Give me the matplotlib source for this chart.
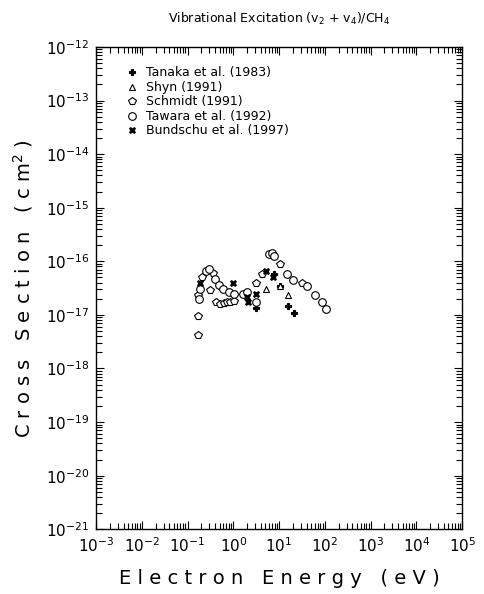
import matplotlib
matplotlib.use("Agg")
import matplotlib.pyplot as plt
from matplotlib.ticker import LogLocator, NullFormatter

# Tanaka et al. (1983)
tanaka_e = [3.14, 7.8, 10.5, 15.5, 21.3]
tanaka_cs = [1.33e-17, 5.8e-17, 3.4e-17, 1.47e-17, 1.10e-17]

# Shyn (1991)
shyn_e = [5.2, 10.5, 15.5]
shyn_cs = [3.1e-17, 3.4e-17, 2.4e-17]

# Schmidt (1991)
schmidt_e = [0.167, 0.172, 0.172, 0.204, 0.31, 0.356, 0.413, 0.513, 0.628,
             0.741, 0.849, 1.04, 3.14, 4.19, 10.5, 31.3]
schmidt_cs = [4.2e-18, 9.6e-18, 2.36e-17, 5.2e-17, 2.9e-17, 6.0e-17, 1.77e-17,
              1.60e-17, 1.69e-17, 1.77e-17, 1.77e-17, 1.82e-17, 3.9e-17,
              5.8e-17, 8.9e-17, 3.9e-17]

# Tawara et al. (1992)
tawara_e = [0.181, 0.187, 0.254, 0.30, 0.405, 0.495, 0.606, 0.82, 1.04, 1.61,
            2.03, 3.14, 6.14, 7.03, 7.89, 15.2, 20.5, 41.6, 61.2, 85.8, 105]
tawara_cs = [1.96e-17, 3.05e-17, 6.7e-17, 7.1e-17, 4.6e-17, 3.6e-17, 3.0e-17,
             2.7e-17, 2.46e-17, 2.46e-17, 2.7e-17, 1.77e-17, 1.37e-16,
             1.42e-16, 1.26e-16, 5.8e-17, 4.5e-17, 3.4e-17, 2.36e-17,
             1.77e-17, 1.29e-17]

# Bundschu et al. (1997)
bundschu_e = [0.19, 1.0, 1.97, 2.07, 3.14, 5.2, 7.5]
bundschu_cs = [3.9e-17, 3.9e-17, 2.2e-17, 1.77e-17, 2.46e-17, 6.7e-17, 5.2e-17]

plt.rcParams['font.family'] = ['DejaVu Sans']

fig = plt.figure(figsize=(4.85, 5.94), dpi=100)
ax = fig.add_axes([0.198, 0.109, 0.755, 0.812])

ms = 5
ax.plot(tanaka_e, tanaka_cs, 'P', color='black', ms=ms, mew=0.8,
        label='Tanaka et al. (1983)')
ax.plot(shyn_e, shyn_cs, '^', mfc='white', mec='black', ms=ms, mew=0.8,
        label='Shyn (1991)')
ax.plot(schmidt_e, schmidt_cs, 'p', mfc='white', mec='black', ms=ms + 0.5, mew=0.8,
        label='Schmidt (1991)')
ax.plot(tawara_e, tawara_cs, 'o', mfc='white', mec='black', ms=ms + 0.5, mew=0.8,
        label='Tawara et al. (1992)')
ax.plot(bundschu_e, bundschu_cs, 'X', color='black', ms=ms, mew=0.5,
        label='Bundschu et al. (1997)')

ax.set_xscale('log')
ax.set_yscale('log')
ax.set_xlim(1e-3, 1e5)
ax.set_ylim(1e-21, 1e-12)

ax.xaxis.set_major_locator(LogLocator(base=10, numticks=20))
ax.yaxis.set_major_locator(LogLocator(base=10, numticks=20))
ax.xaxis.set_minor_locator(LogLocator(base=10, subs=range(2, 10), numticks=200))
ax.yaxis.set_minor_locator(LogLocator(base=10, subs=range(2, 10), numticks=200))
ax.xaxis.set_minor_formatter(NullFormatter())
ax.yaxis.set_minor_formatter(NullFormatter())

ax.tick_params(which='both', direction='in', top=True, right=True, width=0.8)
ax.tick_params(which='major', length=6, labelsize=11, pad=5)
ax.tick_params(which='minor', length=4)
for s in ax.spines.values():
    s.set_linewidth(1.0)

ax.set_xlabel('E l e c t r o n   E n e r g y   ( e V )', fontsize=14, labelpad=10)
ax.set_ylabel('C r o s s   S e c t i o n   ( c m$^2$ )', fontsize=14, labelpad=8)
ax.set_title('Vibrational Excitation (v$_2$ + v$_4$)/CH$_4$', fontsize=9, pad=17)

ax.legend(loc='upper left', bbox_to_anchor=(0.06, 0.975), frameon=False,
          fontsize=9, handletextpad=0.6, labelspacing=0.12, handlelength=1.0,
          borderaxespad=0.2)

fig.savefig('out.png', dpi=100)
